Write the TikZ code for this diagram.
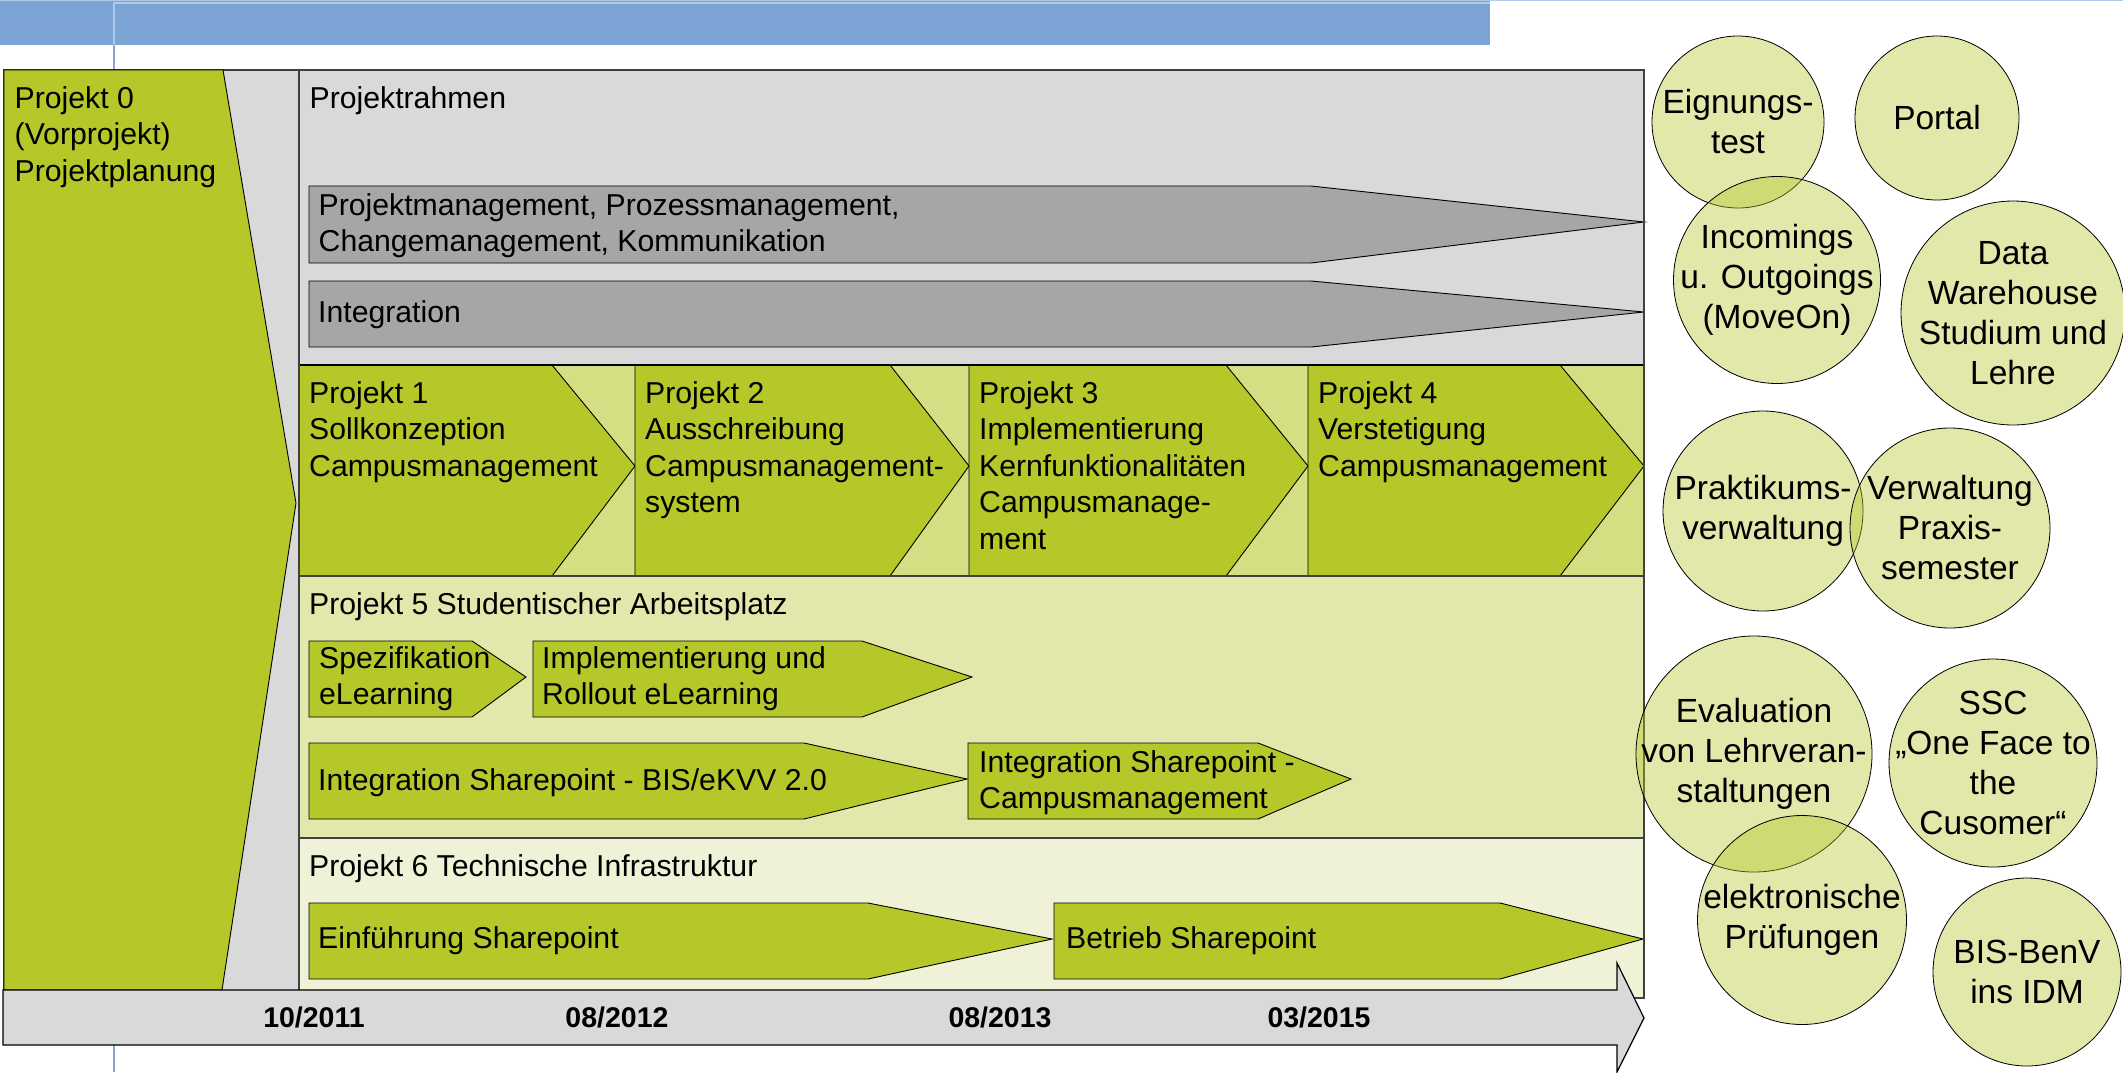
\documentclass[tikz,border=0pt]{standalone}
\usepackage{fontspec}
\setmainfont{Liberation Sans}
\definecolor{barblue}{RGB}{123,163,212}
\definecolor{barhi}{RGB}{178,202,234}
\definecolor{vlineblue}{RGB}{140,165,203}
\definecolor{olivegreen}{RGB}{181,199,41}
\definecolor{rowgreen}{RGB}{212,222,130}
\definecolor{pfivegreen}{RGB}{226,232,171}
\definecolor{psixgreen}{RGB}{239,242,214}
\definecolor{lgray}{RGB}{217,217,217}
\definecolor{dgray}{RGB}{166,166,166}
\definecolor{edgegray}{RGB}{64,64,64}
\newcommand{\txtL}{\fontsize{30.2}{36.5}\selectfont}
\newcommand{\txtC}{\fontsize{33.5}{40}\selectfont}
\newcommand{\txtD}{\fontsize{28.5}{33}\selectfont\bfseries}
\begin{document}
\begin{tikzpicture}[x=1pt,y=-1pt,
  lbl/.style={font=\txtL, anchor=north west, inner sep=0pt, align=left},
  chev/.style={fill=olivegreen, draw=black, line width=0.9pt, line join=miter},
  grayarrow/.style={fill=dgray, draw=black, line width=0.9pt},
  circ/.style={circle, draw=black, line width=0.8pt, fill=olivegreen, fill opacity=0.4, inner sep=0pt},
  ctxt/.style={font=\txtC, align=center, inner sep=0pt},
  datelbl/.style={font=\txtD, anchor=base, inner sep=0pt}]
\useasboundingbox (0,0) rectangle (2123,1072);
\fill[white] (0,0) rectangle (2123,1072);
% top bar
\fill[barblue] (0,0) rectangle (1490,45);
\draw[barhi, line width=1pt] (0,0.5) -- (2123,0.5);
\draw[barhi, line width=1.5pt] (114,45) -- (114,3) -- (1490,3);
\draw[vlineblue, line width=1.5pt] (114,45) -- (114,70);
\draw[vlineblue, line width=1.5pt] (114,1045) -- (114,1072);
% left column
\fill[lgray] (4,70) rectangle (299,990);
\draw[edgegray, line width=1.2pt] (4,990) -- (4,70) -- (299,70);
\path[chev] (4,70) -- (223,70) -- (296,503) -- (222,990) -- (4,990) -- cycle;
% main box sections
\fill[lgray] (299,70) rectangle (1644,365);
\fill[rowgreen] (299,365) rectangle (1644,576);
\fill[pfivegreen] (299,576) rectangle (1644,838);
\fill[psixgreen] (299,838) rectangle (1644,998);
% Projektrahmen arrows
\path[grayarrow] (309,186) -- (1311,186) -- (1644,222) -- (1311,263) -- (309,263) -- cycle;
\path[grayarrow] (309,281) -- (1311,281) -- (1644,312) -- (1311,347) -- (309,347) -- cycle;
% project 1-4 chevrons
\path[chev] (299,365) -- (552,365) -- (635,466) -- (552,576) -- (299,576) -- cycle;
\path[chev] (635,365) -- (890,365) -- (969,466) -- (890,576) -- (635,576) -- cycle;
\path[chev] (969,365) -- (1226,365) -- (1308,466) -- (1226,576) -- (969,576) -- cycle;
\path[chev] (1308,365) -- (1560,365) -- (1644,466) -- (1560,576) -- (1308,576) -- cycle;
% project 5 shapes
\path[chev] (309,641) -- (472,641) -- (526,677) -- (472,717) -- (309,717) -- cycle;
\path[chev] (533,641) -- (862,641) -- (972,677) -- (862,717) -- (533,717) -- cycle;
\path[chev] (309,743) -- (804,743) -- (967,779) -- (804,819) -- (309,819) -- cycle;
\path[chev] (968,743) -- (1258,743) -- (1351,779) -- (1258,819) -- (968,819) -- cycle;
% project 6 shapes
\path[chev] (309,903) -- (868,903) -- (1052,939) -- (868,979) -- (309,979) -- cycle;
\path[chev] (1054,903) -- (1500,903) -- (1643,939) -- (1500,979) -- (1054,979) -- cycle;
% separators and border
\draw[black, line width=1.3pt] (299,365) -- (1644,365);
\draw[edgegray, line width=1.3pt] (299,576) -- (1644,576);
\draw[edgegray, line width=2.2pt] (299,838) -- (1644,838);
\draw[edgegray, line width=1.2pt] (299,70) rectangle (1644,998);
% timeline
\path[fill=lgray, draw=black, line width=1.2pt] (3,990) -- (1617,990) -- (1617,963) -- (1644,1018) -- (1617,1072) -- (1617,1045) -- (3,1045) -- cycle;
% texts
\node[lbl] (p0) at (14.5,82.5) {\strut Projekt 0\\(Vorprojekt)\\Projektplanung};
\node[lbl] (rahmen) at (309.5,82.5) {\strut Projektrahmen};
\node[lbl] (pm) at (318.5,189.5) {\strut Projektmanagement, Prozessmanagement,\\Changemanagement, Kommunikation};
\node[lbl] (integ) at (318,296.5) {\strut Integration};
\node[lbl] (p1) at (309,377.5) {\strut Projekt 1\\Sollkonzeption\\Campusmanagement};
\node[lbl] (p2) at (645,377.5) {\strut Projekt 2\\Ausschreibung\\Campusmanagement-\\system};
\node[lbl] (p3) at (979,377.5) {\strut Projekt 3\\Implementierung\\Kernfunktionalitäten\\Campusmanage-\\ment};
\node[lbl] (p4) at (1318,377.5) {\strut Projekt 4\\Verstetigung\\Campusmanagement};
\node[lbl] (p5) at (309,588.5) {\strut Projekt 5 Studentischer Arbeitsplatz};
\node[lbl] (spez) at (319,642.5) {\strut Spezifikation\\eLearning};
\node[lbl] (impl) at (542,642.5) {\strut Implementierung und\\Rollout eLearning};
\node[lbl] (intbis) at (318,764.5) {\strut Integration Sharepoint - BIS/eKVV 2.0};
\node[lbl] (intcm) at (979,746.5) {\strut Integration Sharepoint -\\Campusmanagement};
\node[lbl] (p6) at (309,850.5) {\strut Projekt 6 Technische Infrastruktur};
\node[lbl] (einf) at (318,922.5) {\strut Einführung Sharepoint};
\node[lbl] (betr) at (1066,922.5) {\strut Betrieb Sharepoint};
% dates
\node[datelbl] (d1) at (314,1027) {10/2011};
\node[datelbl] (d2) at (617,1027) {08/2012};
\node[datelbl] (d3) at (1000,1027) {08/2013};
\node[datelbl] (d4) at (1319,1027) {03/2015};
% circles
\node[circ, minimum size=172pt] (c1) at (1738,122) {};
\node[circ, minimum size=164pt] (c2) at (1937,118) {};
\node[circ, minimum size=207pt] (c3) at (1777,280) {};
\node[circ, minimum size=224pt] (c4) at (2013,313) {};
\node[circ, minimum size=200pt] (c5) at (1763,511) {};
\node[circ, minimum size=200pt] (c6) at (1950,528) {};
\node[circ, minimum size=236pt] (c7) at (1754,754) {};
\node[circ, minimum size=209pt] (c8) at (1802,920) {};
\node[circ, minimum size=208pt] (c9) at (1993,763) {};
\node[circ, minimum size=188pt] (c10) at (2027,972) {};
\node[ctxt] (t1) at (c1.center) {Eignungs-\\test};
\node[ctxt] (t2) at (c2.center) {Portal};
\node[ctxt] (t3) at (c3.center) {Incomings\\u. Outgoings\\(MoveOn)};
\node[ctxt] (t4) at (c4.center) {Data\\Warehouse\\Studium und\\Lehre};
\node[ctxt] (t5) at (c5.center) {Praktikums-\\verwaltung};
\node[ctxt] (t6) at (c6.center) {Verwaltung\\Praxis-\\semester};
\node[ctxt] (t7) at (c7.center) {Evaluation\\von Lehrveran-\\staltungen};
\node[ctxt] (t8) at (c8.center) {elektronische\\Prüfungen};
\node[ctxt] (t9) at (c9.center) {SSC\\„One Face to\\the\\Cusomer“};
\node[ctxt] (t10) at (c10.center) {BIS-BenV\\ins IDM};
\end{tikzpicture}
\end{document}
